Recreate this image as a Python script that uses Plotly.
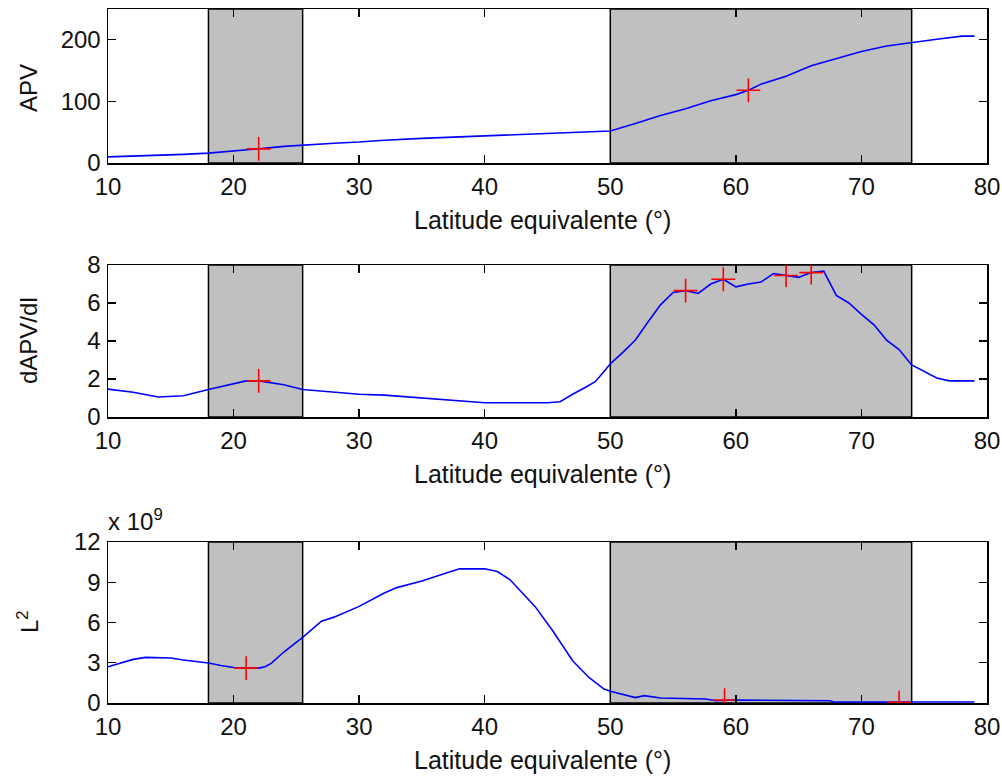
import plotly.graph_objects as go

# ---------------- data ----------------
apv_lat = [10, 12, 14, 16, 18, 20, 22, 24, 26, 28, 30, 32, 35, 40, 45, 48, 50, 52, 54, 56, 58, 60, 61, 62, 64, 66, 68, 70, 72, 74, 76, 78, 79]
apv_val = [10, 11, 12, 14, 16, 19, 23, 27, 30, 32, 34, 37, 40, 44, 48, 50, 52, 64, 77, 88, 101, 111, 118, 128, 141, 158, 170, 181, 190, 196, 201, 206, 206]
apv_mark_lat = [22, 61]
apv_mark_val = [23, 118]

dapv_lat = [10, 12, 14, 16, 18, 20, 21, 22, 24, 25.5, 28, 30, 32, 35, 38, 40, 43, 45, 46, 47, 48, 48.8, 49.5, 50, 51, 52, 53, 54, 55, 56, 57, 58, 59, 60, 61, 62, 63, 64, 65, 66, 67, 68, 69, 70, 71, 72, 73, 74, 75, 76, 77, 79]
dapv_val = [1.47, 1.3, 1.05, 1.12, 1.45, 1.75, 1.9, 1.9, 1.7, 1.45, 1.3, 1.2, 1.15, 1.0, 0.85, 0.75, 0.75, 0.75, 0.8, 1.2, 1.55, 1.86, 2.4, 2.8, 3.4, 4.05, 5.0, 5.9, 6.55, 6.65, 6.5, 7.0, 7.25, 6.85, 7.0, 7.1, 7.55, 7.45, 7.35, 7.6, 7.68, 6.4, 6.0, 5.4, 4.85, 4.05, 3.55, 2.74, 2.4, 2.05, 1.9, 1.9]
dapv_mark_lat = [22, 56, 59, 64, 66]
dapv_mark_val = [1.9, 6.65, 7.25, 7.45, 7.6]

l2_lat = [10, 11, 12, 13, 14, 15, 16, 17, 18, 19, 20, 21, 22, 22.5, 23, 24, 25.5, 27, 28, 30, 32, 33, 35, 37, 38, 40, 41, 42, 44, 45.4, 47, 48.3, 49.5, 50, 50.8, 52, 52.7, 54, 57.6, 58.4, 60, 67.5, 67.8, 79]
l2_val = [2.7, 3.0, 3.25, 3.4, 3.4, 3.35, 3.2, 3.1, 2.98, 2.8, 2.65, 2.6, 2.6, 2.7, 2.95, 3.8, 4.9, 6.1, 6.4, 7.2, 8.2, 8.6, 9.1, 9.7, 10.0, 10.0, 9.8, 9.2, 7.2, 5.4, 3.15, 1.9, 1.04, 0.87, 0.67, 0.4, 0.55, 0.37, 0.3, 0.17, 0.22, 0.17, 0.07, 0.07]
l2_mark_lat = [21, 59.1, 73]
l2_mark_val = [2.6, 0.22, 0.05]
l2_scale = 1e9

shade_start = [18, 50]
shade_end = [25.5, 74]

x_ticks = [10, 20, 30, 40, 50, 60, 70, 80]
apv_ticks = [0, 100, 200]
dapv_ticks = [0, 2, 4, 6, 8]
l2_ticks = [0, 3, 6, 9, 12]

# ---------------- figure ----------------
W, H = 1002, 778
FONT = "Liberation Sans"
FS = 24
LINE_BLUE = "#0000FF"
RED = "#FF0000"

fig = go.Figure()

panels = [
    ("x", "y", apv_lat, apv_val, apv_mark_lat, apv_mark_val, 1),
    ("x2", "y2", dapv_lat, dapv_val, dapv_mark_lat, dapv_mark_val, 1),
    ("x3", "y3", l2_lat, l2_val, l2_mark_lat, l2_mark_val, l2_scale),
]
for xa, ya, lx, ly, mx, my, sc in panels:
    fig.add_trace(go.Scatter(x=lx, y=[v * sc for v in ly], mode="lines",
                             line=dict(color=LINE_BLUE, width=1.6),
                             xaxis=xa, yaxis=ya, showlegend=False, hoverinfo="skip"))
    fig.add_trace(go.Scatter(x=mx, y=[v * sc for v in my], mode="markers",
                             marker=dict(symbol="cross-thin", size=17,
                                         line=dict(color=RED, width=1.6)),
                             xaxis=xa, yaxis=ya, showlegend=False, hoverinfo="skip"))
    for s0, s1 in zip(shade_start, shade_end):
        fig.add_shape(type="rect", xref=xa, yref=ya + " domain", x0=s0, x1=s1, y0=0, y1=1,
                      fillcolor="#C0C0C0", line=dict(color="black", width=1.5), layer="below")

# pixel boxes (top, bottom) of the three plot areas
boxes = [(9, 163), (265, 417), (542, 703)]
x0p, x1p = 108, 987

def ydom(top, bot):
    return [1 - bot / H, 1 - top / H]

axis_common = dict(showline=True, linecolor="black", linewidth=1.5, mirror="ticks",
                   ticks="inside", ticklen=8, tickwidth=1.3, tickcolor="black",
                   showgrid=False, zeroline=False, automargin=False, fixedrange=True,
                   tickfont=dict(family=FONT, size=FS, color="#111111"))

layout = dict(width=W, height=H,
              margin=dict(l=0, r=0, t=0, b=0, pad=0, autoexpand=False),
              paper_bgcolor="white", plot_bgcolor="white", showlegend=False,
              hovermode=False)

y_specs = [
    ([0, 250], apv_ticks, [str(t) for t in apv_ticks]),
    ([0, 8], dapv_ticks, [str(t) for t in dapv_ticks]),
    ([0, 12 * l2_scale], [t * l2_scale for t in l2_ticks], [str(t) for t in l2_ticks]),
]
for i, ((top, bot), (yr, yt, ytt)) in enumerate(zip(boxes, y_specs)):
    sfx = "" if i == 0 else str(i + 1)
    layout["xaxis" + sfx] = dict(axis_common, domain=[x0p / W, x1p / W], range=[10, 80],
                                 tickvals=x_ticks, anchor="y" + sfx, ticklabelstandoff=2)
    layout["yaxis" + sfx] = dict(axis_common, domain=ydom(top, bot), range=yr,
                                 tickvals=yt, ticktext=ytt, anchor="x" + sfx,
                                 ticklabelstandoff=1)

fig.update_layout(**layout)

ann_font = dict(family=FONT, size=FS, color="#111111")
# x titles
for top, bot in boxes:
    fig.add_annotation(text="Latitude equivalente (°)", xref="paper", yref="paper",
                       x=542 / W, y=1 - (bot + 57) / H, xanchor="center", yanchor="middle",
                       showarrow=False, font=dict(ann_font, size=25))
# y titles
for txt, yc in [("APV", 88), ("dAPV/dl", 341), ("L<sup>2</sup>", 622)]:
    fig.add_annotation(text=txt, xref="paper", yref="paper", x=28 / W, y=1 - yc / H,
                       xanchor="center", yanchor="middle", textangle=-90,
                       showarrow=False, font=ann_font)
# exponent label
fig.add_annotation(text="x 10<sup>9</sup>", xref="paper", yref="paper",
                   x=106 / W, y=1 - 520 / H, xanchor="left", yanchor="middle",
                   showarrow=False, font=ann_font)

fig.write_html("out.html", config={"displayModeBar": False, "staticPlot": True},
               post_script="document.body.style.margin='0';document.body.style.overflow='hidden';")
